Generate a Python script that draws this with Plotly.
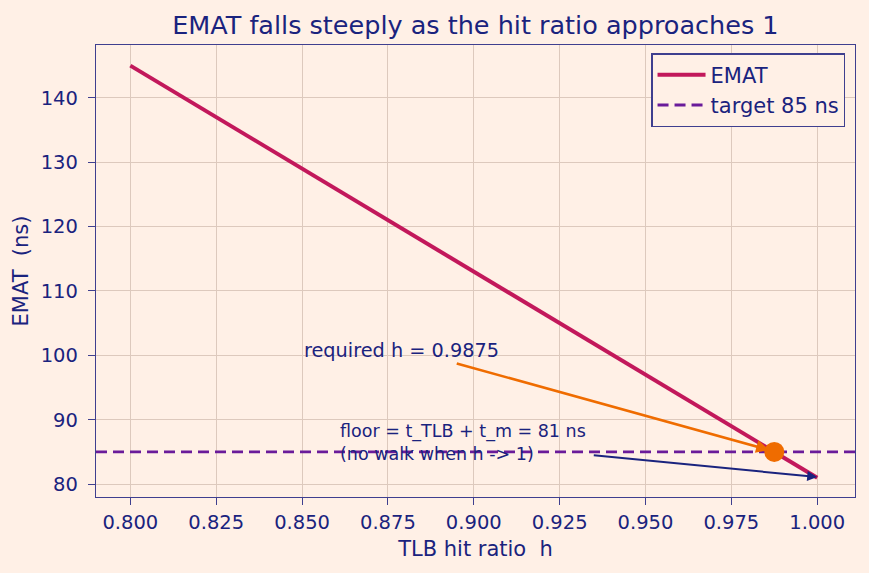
import plotly.graph_objects as go

h_vals = [0.80, 0.85, 0.90, 0.95, 1.00]
emat_vals = [145, 129, 113, 97, 81]
target_ns = 85
required_h = 0.9875
floor_ns = 81
x_ticks = [0.800, 0.825, 0.850, 0.875, 0.900, 0.925, 0.950, 0.975, 1.000]
y_ticks = [80, 90, 100, 110, 120, 130, 140]

BG = "#FFF0E6"
NAVY = "#1A237E"
FRAME = "#3F3F8F"
FONT = "DejaVu Sans"

fig = go.Figure()
fig.add_trace(go.Scatter(x=[0.79, 1.011], y=[target_ns, target_ns], mode="lines",
                         line=dict(color="#6A1B9A", width=2.8, dash="11px,6px"),
                         name="target 85 ns", showlegend=False))
fig.add_trace(go.Scatter(x=h_vals, y=emat_vals, mode="lines",
                         line=dict(color="#C2185B", width=4), name="EMAT"))
fig.add_trace(go.Scatter(x=[None], y=[None], mode="lines",
                         line=dict(color="#6A1B9A", width=2.8, dash="11px,6px"),
                         name="target 85 ns"))
fig.add_trace(go.Scatter(x=[required_h], y=[target_ns], mode="markers",
                         marker=dict(color="#EF6C00", size=20), showlegend=False))

fig.add_annotation(x=required_h - 0.0015, y=target_ns + 0.3, ax=0.8946, ay=98.8,
                   xref="x", yref="y", axref="x", ayref="y", text="",
                   showarrow=True, arrowhead=2, arrowsize=1, arrowwidth=2.6,
                   arrowcolor="#EF6C00")
fig.add_annotation(x=0.85, y=100.8, xref="x", yref="y", text="required h = 0.9875",
                   showarrow=False, xanchor="left", yanchor="middle",
                   font=dict(family=FONT, size=19.3, color=NAVY))
fig.add_annotation(x=1.0, y=81.1, ax=0.9345, ay=84.5,
                   xref="x", yref="y", axref="x", ayref="y", text="",
                   showarrow=True, arrowhead=2, arrowsize=1, arrowwidth=2,
                   arrowcolor=NAVY)
fig.add_annotation(x=0.8605, y=86.4, xref="x", yref="y",
                   text="floor = t_TLB + t_m = 81 ns<br>(no walk when h -> 1)",
                   showarrow=False, xanchor="left", yanchor="middle", align="left",
                   font=dict(family=FONT, size=17.5, color=NAVY))

axis_common = dict(showline=True, linecolor=FRAME, linewidth=1.4, mirror=True,
                   showgrid=True, gridcolor="#DDC9BD", gridwidth=1.2,
                   ticks="outside", ticklen=7, tickcolor=FRAME, tickwidth=1.2,
                   tickfont=dict(family=FONT, size=19.5, color=NAVY), zeroline=False)

fig.update_xaxes(range=[0.790, 1.011], tickvals=x_ticks,
                 ticktext=[f"{v:.3f}" for v in x_ticks], ticklabelstandoff=0,
                 title=dict(text="TLB hit ratio  h", font=dict(family=FONT, size=21, color=NAVY),
                            standoff=8), **axis_common)
fig.update_yaxes(range=[78.0, 148.2], tickvals=y_ticks, ticklabelstandoff=6,
                 title=dict(text="EMAT  (ns)", font=dict(family=FONT, size=21, color=NAVY),
                            standoff=6), **axis_common)

fig.update_layout(
    width=869, height=573, paper_bgcolor=BG, plot_bgcolor=BG,
    margin=dict(l=96, r=14, t=45, b=76),
    title=dict(text="EMAT falls steeply as the hit ratio approaches 1", x=0.547, xanchor="center",
               y=0.957, yanchor="middle", font=dict(family=FONT, size=25.5, color=NAVY)),
    legend=dict(x=0.987, y=0.982, xanchor="right", yanchor="top", bgcolor=BG,
                bordercolor=FRAME, borderwidth=1.4, itemwidth=48,
                font=dict(family=FONT, size=21, color=NAVY)),
    showlegend=True,
)

fig.write_html("out.html")
